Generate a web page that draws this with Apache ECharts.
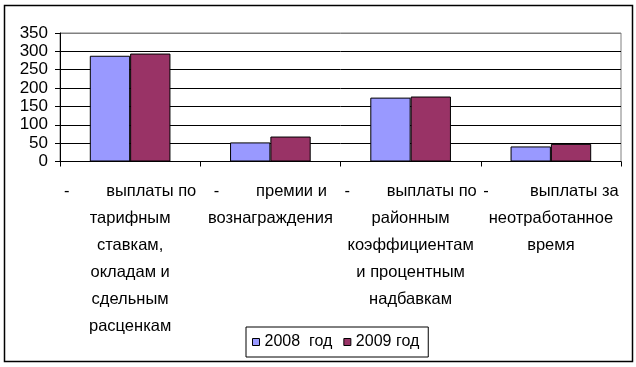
<!DOCTYPE html>
<html>
<head>
<meta charset="utf-8">
<script src="https://cdn.jsdelivr.net/npm/echarts@6/dist/echarts.min.js"></script>
<style>html,body{margin:0;padding:0;background:#fff}#c{width:636px;height:367px}</style>
</head>
<body>
<div id="c"></div>
<script>
var categories = [
  "-        выплаты по\nтарифным\nставкам,\nокладам и\nсдельным\nрасценкам",
  "-        премии и\nвознаграждения",
  "-        выплаты по\nрайонным\nкоэффициентам\nи процентным\nнадбавкам",
  "-         выплаты за\nнеотработанное\nвремя"
];
var seriesNames = ["2008  год", "2009 год"];
var values2008 = [288, 52, 174, 41];
var values2009 = [294, 68, 177, 48];
var yTicks = { min: 0, max: 350, interval: 50 };

var chart = echarts.init(document.getElementById('c'), null, { renderer: 'canvas' });
chart.setOption({
  animation: false,
  backgroundColor: '#fff',
  graphic: [{
    type: 'rect',
    shape: { x: 4.5, y: 5.5, width: 628, height: 356 },
    style: { fill: 'none', stroke: '#000', lineWidth: 1.5 },
    z: 100
  }],
  grid: {
    left: 60, right: 15, top: 33, bottom: 205.5,
    show: true, borderColor: '#808080', borderWidth: 1, backgroundColor: '#fff'
  },
  legend: {
    left: 246, top: 327,
    padding: [7, 9, 7, 6],
    itemWidth: 7, itemHeight: 7, itemGap: 11,
    borderColor: '#000', borderWidth: 1,
    icon: 'rect',
    itemStyle: { borderColor: '#000', borderWidth: 1 },
    textStyle: { fontFamily: 'Liberation Sans, Arial', fontSize: 16, color: '#000' },
    data: seriesNames
  },
  xAxis: {
    type: 'category',
    data: categories,
    axisLine: { lineStyle: { color: '#000', width: 1 } },
    axisTick: { show: true, length: 5, lineStyle: { color: '#000' } },
    axisLabel: {
      interval: 0, margin: 16,
      fontFamily: 'Liberation Sans, Arial',
      fontSize: 16.5, lineHeight: 27, color: '#000', align: 'center'
    }
  },
  yAxis: {
    type: 'value',
    min: yTicks.min, max: yTicks.max, interval: yTicks.interval,
    axisLine: { show: true, lineStyle: { color: '#000', width: 1 } },
    axisTick: { show: true, length: 5, lineStyle: { color: '#000' } },
    axisLabel: { margin: 12, fontFamily: 'Liberation Sans, Arial', fontSize: 17, color: '#000' },
    splitLine: { show: true, lineStyle: { color: ['#000', '#000', '#000', '#000', '#000', '#000', '#000', '#808080'], width: 1 } }
  },
  series: [
    {
      name: seriesNames[0], type: 'bar', data: values2008,
      barGap: '0%', barCategoryGap: '42.5%',
      itemStyle: { color: '#9999FF', borderColor: '#000', borderWidth: 1 }
    },
    {
      name: seriesNames[1], type: 'bar', data: values2009,
      barGap: '0%', barCategoryGap: '42.5%',
      itemStyle: { color: '#993366', borderColor: '#000', borderWidth: 1 }
    }
  ]
});
</script>
</body>
</html>
